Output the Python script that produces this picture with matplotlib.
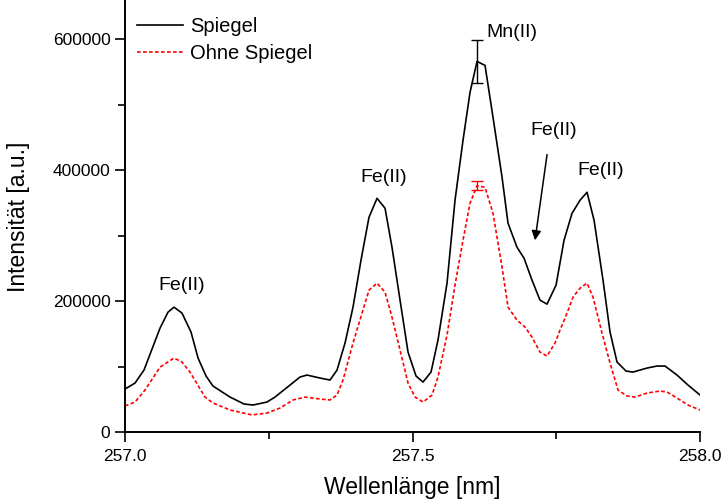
import matplotlib
matplotlib.use("Agg")
import matplotlib.pyplot as plt
import numpy as np

plt.rcParams['font.family'] = ['Liberation Sans', 'DejaVu Sans']

# Spiegel (black)
wl_mirror = [257.000, 257.0174, 257.033, 257.0609, 257.0748, 257.0852, 257.0991, 257.1148,
             257.127, 257.1409, 257.153, 257.1826, 257.207, 257.2226, 257.247, 257.2609,
             257.287, 257.3043, 257.3165, 257.3391, 257.3565, 257.3687, 257.3826, 257.3965,
             257.4104, 257.4243, 257.4383, 257.4522, 257.4643, 257.4783, 257.4922, 257.5061,
             257.5183, 257.5322, 257.5443, 257.56, 257.5739, 257.5878, 257.6, 257.6122,
             257.6261, 257.64, 257.6557, 257.6661, 257.6817, 257.6939, 257.7078, 257.7217,
             257.7339, 257.7496, 257.7635, 257.7774, 257.7913, 257.8035, 257.8157, 257.8313,
             257.8435, 257.8557, 257.8713, 257.8835, 257.9078, 257.9252, 257.9391, 257.96,
             257.9791, 258.0]
int_mirror = [65650, 74800, 94650, 158800, 183200, 190800, 181700, 152700,
              113000, 85500, 70200, 53400, 42750, 41200, 45800, 53400,
              71750, 84000, 87000, 82450, 79400, 94650, 135900, 190800,
              262600, 328200, 357200, 342000, 282400, 201500, 122100, 85500,
              76300, 91600, 140500, 227500, 354200, 445800, 519100, 566400,
              560300, 480900, 389300, 319100, 282400, 265700, 232100, 201500,
              195400, 224400, 293100, 334300, 354200, 366400, 323700, 232100,
              152700, 106900, 93100, 91600, 97700, 100800, 100800, 87000,
              71750, 56500]

# Ohne Spiegel (red)
wl_plain = [257.000, 257.0174, 257.0348, 257.0609, 257.0852, 257.0991, 257.113, 257.1391,
            257.153, 257.1826, 257.2209, 257.247, 257.2696, 257.2922, 257.313, 257.3391,
            257.3565, 257.3687, 257.3791, 257.3965, 257.4122, 257.4243, 257.4383, 257.4522,
            257.4643, 257.4783, 257.4922, 257.5043, 257.5183, 257.5339, 257.5443, 257.56,
            257.5739, 257.5878, 257.6, 257.6122, 257.6261, 257.64, 257.6557, 257.6661,
            257.6817, 257.6957, 257.7078, 257.7217, 257.7339, 257.7478, 257.7565, 257.7687,
            257.7791, 257.7913, 257.8035, 257.8139, 257.8296, 257.8435, 257.8574, 257.873,
            257.887, 257.9078, 257.9304, 257.9426, 257.96, 257.9791, 258.0]
int_plain = [39700, 45800, 64100, 99200, 113000, 106900, 91600, 53400,
             44300, 33600, 26000, 29000, 36600, 48900, 53400, 50400,
             48900, 56500, 79400, 135900, 181700, 216800, 227500, 213700,
             175600, 125200, 74800, 53400, 45800, 56500, 84000, 148100,
             224400, 293100, 349600, 376500, 374000, 334300, 251900, 190800,
             171000, 160300, 145000, 122100, 116000, 135900, 155700, 181700,
             206100, 219800, 227500, 206100, 151100, 105300, 64100, 55000,
             53400, 59500, 62600, 61100, 51900, 41200, 33600]

# error bars on the Mn(II) peak
err_wl = 257.6122
err_mirror = 33000
err_plain = 7000

fig = plt.figure(figsize=(7.21, 4.99), dpi=100)
ax = fig.add_axes([0.1734, 0.1343, 0.7975, 0.864])

ax.plot(wl_mirror, int_mirror, color='black', lw=1.2, label='Spiegel')
ax.plot(wl_plain, int_plain, color='red', lw=1.2, ls=(0, (2.2, 1.4)), label='Ohne Spiegel')

ax.errorbar([err_wl], [int_mirror[wl_mirror.index(err_wl)]], yerr=err_mirror,
            color='black', lw=1, capsize=4, capthick=1)
ax.errorbar([err_wl], [int_plain[wl_plain.index(err_wl)]], yerr=err_plain,
            color='red', lw=1, capsize=4, capthick=1)

fs = 14
ax.text(257.628, 610000, 'Mn(II)', fontsize=fs, ha='left', va='center')
ax.text(257.828, 400000, 'Fe(II)', fontsize=fs, ha='center', va='center')
ax.text(257.450, 389000, 'Fe(II)', fontsize=fs, ha='center', va='center')
ax.text(257.099, 224000, 'Fe(II)', fontsize=fs, ha='center', va='center')
ax.text(257.746, 461000, 'Fe(II)', fontsize=fs, ha='center', va='center')
ax.annotate('', xy=(257.713, 293000), xytext=(257.734, 424000),
            arrowprops=dict(arrowstyle='-|>', color='black', lw=1.1,
                            mutation_scale=14, shrinkA=0, shrinkB=0))

ax.set_xlim(257.0, 258.0)
ax.set_ylim(0, 659000)
ax.set_xticks([257.0, 257.5, 258.0])
ax.set_xticklabels(['257.0', '257.5', '258.0'])
ax.set_xticks([257.25, 257.75], minor=True)
ax.set_yticks([0, 200000, 400000, 600000])
ax.set_yticklabels(['0', '200000', '400000', '600000'])
ax.set_yticks([100000, 300000, 500000], minor=True)

ax.spines['top'].set_visible(False)
ax.spines['right'].set_visible(False)
ax.spines['left'].set_linewidth(1.4)
ax.spines['bottom'].set_linewidth(1.4)
ax.tick_params(which='major', direction='out', length=7, width=1.2, labelsize=12.5)
ax.tick_params(axis='x', which='major', pad=5)
ax.tick_params(which='minor', direction='out', length=5, width=1.2)

ax.set_xlabel('Wellenlänge [nm]', fontsize=16.5, labelpad=9)
ax.set_ylabel('Intensität [a.u.]', fontsize=16.5, labelpad=16)

ax.legend(loc='upper left', frameon=False, fontsize=14.5, handlelength=2.3,
          handletextpad=0.35, borderaxespad=0.2, labelspacing=0.4,
          bbox_to_anchor=(0.0, 0.99))

fig.savefig('out.png', dpi=100)
